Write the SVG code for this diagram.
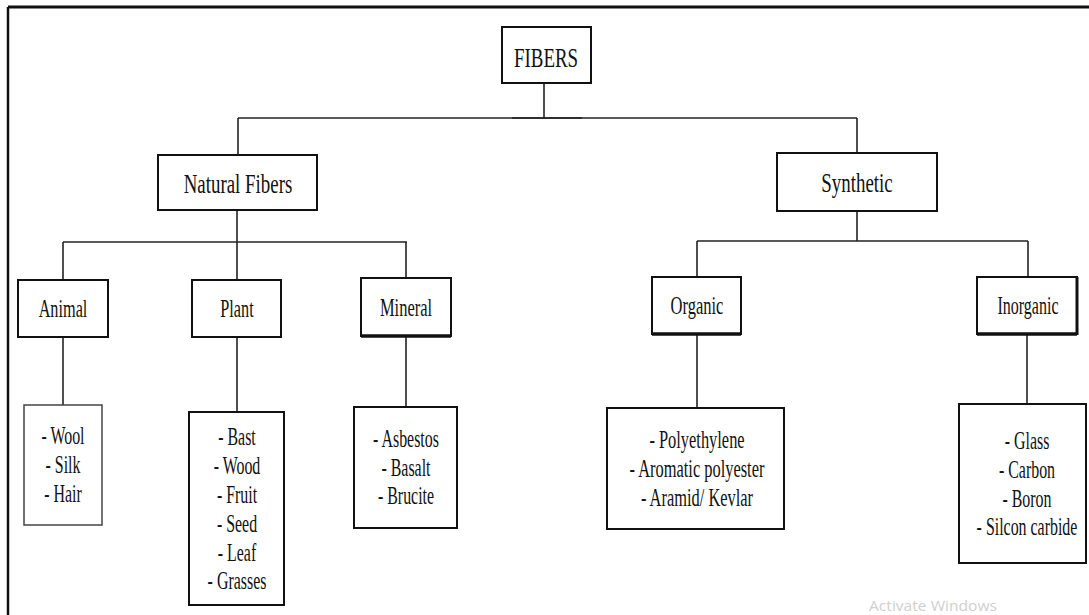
<svg xmlns="http://www.w3.org/2000/svg" width="1089" height="615" viewBox="0 0 1089 615">
<style>
.box{fill:#fff;stroke:#111;stroke-width:2}
.thin{fill:#fff;stroke:#444;stroke-width:1.5}
.ln{stroke:#222;stroke-width:1.6;fill:none}
.frame{stroke:#111;fill:none}
text{font-family:"Liberation Serif","Times New Roman",serif;fill:#111;text-anchor:middle}
.h0{font-size:27px}
.h1{font-size:25px}
.li{font-size:24.5px}
.wm{font-family:"Open Sans","Noto Sans",sans-serif;font-size:15px;fill:#cfcfcf;text-anchor:start}
</style>
<rect width="1089" height="615" fill="#fff"/>
<g id="frame">
<line class="frame" x1="8" y1="7" x2="1089" y2="7" stroke-width="3"/>
<line class="frame" x1="8" y1="7" x2="8" y2="615" stroke-width="2.5"/>
</g>
<g id="connectors">
<line class="ln" x1="544" y1="83" x2="544" y2="118"/>
<line class="ln" x1="238" y1="118" x2="857" y2="118"/>
<line class="ln" x1="512" y1="118" x2="582" y2="118" stroke-width="3"/>
<line class="ln" x1="238" y1="118" x2="238" y2="155"/>
<line class="ln" x1="857" y1="118" x2="857" y2="153"/>
<line class="ln" x1="237" y1="210" x2="237" y2="280"/>
<line class="ln" x1="63" y1="242" x2="407" y2="242"/>
<line class="ln" x1="63" y1="242" x2="63" y2="280"/>
<line class="ln" x1="406" y1="242" x2="406" y2="278"/>
<line class="ln" x1="857" y1="211" x2="857" y2="241"/>
<line class="ln" x1="697" y1="241" x2="1028" y2="241"/>
<line class="ln" x1="697" y1="241" x2="697" y2="277"/>
<line class="ln" x1="1028" y1="241" x2="1028" y2="277"/>
<line class="ln" x1="63" y1="337" x2="63" y2="405"/>
<line class="ln" x1="237" y1="337" x2="237" y2="412"/>
<line class="ln" x1="406" y1="336" x2="406" y2="407"/>
<line class="ln" x1="697" y1="334" x2="697" y2="408"/>
<line class="ln" x1="1027" y1="334" x2="1027" y2="404"/>
</g>
<g id="fibers">
<rect class="box" x="502" y="27" width="89" height="56"/>
<text class="h0" transform="translate(546,67) scale(0.7,1)">FIBERS</text>
</g>
<g id="natural">
<rect class="box" x="158" y="155" width="159" height="55"/>
<text class="h0" transform="translate(238,193) scale(0.7,1)">Natural Fibers</text>
</g>
<g id="synthetic">
<rect class="box" x="777" y="153" width="160" height="58" stroke-width="2.5"/>
<text class="h0" transform="translate(857,192) scale(0.7,1)">Synthetic</text>
</g>
<g id="animal">
<rect class="box" x="18" y="280" width="90" height="57"/>
<text class="h1" transform="translate(63,317) scale(0.65,1)">Animal</text>
</g>
<g id="plant">
<rect class="box" x="192" y="280" width="89" height="57"/>
<text class="h1" transform="translate(237,317) scale(0.65,1)">Plant</text>
</g>
<g id="mineral">
<rect class="box" x="361" y="278" width="90" height="58"/>
<line x1="361" y1="336" x2="451" y2="336" stroke="#111" stroke-width="3.5"/>
<text class="h1" transform="translate(406,316) scale(0.66,1)">Mineral</text>
</g>
<g id="organic">
<rect class="box" x="652" y="277" width="89" height="57"/>
<line x1="652" y1="334" x2="741" y2="334" stroke="#111" stroke-width="3.5"/>
<text class="h1" transform="translate(697,314) scale(0.66,1)">Organic</text>
</g>
<g id="inorganic">
<rect class="box" x="977" y="277" width="100" height="57"/>
<line x1="977" y1="334" x2="1077" y2="334" stroke="#111" stroke-width="3.5"/>
<line x1="1077" y1="277" x2="1077" y2="335" stroke="#111" stroke-width="3"/>
<text class="h1" transform="translate(1028,314) scale(0.64,1)">Inorganic</text>
</g>
<g id="animal-list">
<rect class="thin" x="24" y="405" width="78" height="120"/>
<text class="li" transform="translate(63,444) scale(0.65,1)">- Wool</text>
<text class="li" transform="translate(63,473) scale(0.65,1)">- Silk</text>
<text class="li" transform="translate(63,502) scale(0.65,1)">- Hair</text>
</g>
<g id="plant-list">
<rect class="box" x="189" y="412" width="95" height="193"/>
<text class="li" transform="translate(237,445) scale(0.65,1)">- Bast</text>
<text class="li" transform="translate(237,474) scale(0.65,1)">- Wood</text>
<text class="li" transform="translate(237,503) scale(0.65,1)">- Fruit</text>
<text class="li" transform="translate(237,532) scale(0.65,1)">- Seed</text>
<text class="li" transform="translate(237,561) scale(0.65,1)">- Leaf</text>
<text class="li" transform="translate(237,589) scale(0.65,1)">- Grasses</text>
</g>
<g id="mineral-list">
<rect class="box" x="354" y="407" width="103" height="121"/>
<text class="li" transform="translate(406,447) scale(0.65,1)">- Asbestos</text>
<text class="li" transform="translate(406,476) scale(0.65,1)">- Basalt</text>
<text class="li" transform="translate(406,504) scale(0.65,1)">- Brucite</text>
</g>
<g id="organic-list">
<rect class="box" x="607" y="408" width="177" height="121"/>
<text class="li" transform="translate(697,448) scale(0.67,1)">- Polyethylene</text>
<text class="li" transform="translate(697,477) scale(0.67,1)">- Aromatic polyester</text>
<text class="li" transform="translate(697,506) scale(0.67,1)">- Aramid/ Kevlar</text>
</g>
<g id="inorganic-list">
<rect class="box" x="959" y="404" width="127" height="159"/>
<text class="li" transform="translate(1027,449) scale(0.65,1)">- Glass</text>
<text class="li" transform="translate(1027,478) scale(0.65,1)">- Carbon</text>
<text class="li" transform="translate(1027,507) scale(0.65,1)">- Boron</text>
<text class="li" transform="translate(1027,535) scale(0.65,1)">- Silcon carbide</text>
</g>
<g id="watermark">
<text class="wm" x="869" y="611" textLength="128" lengthAdjust="spacingAndGlyphs">Activate Windows</text>
</g>
</svg>
